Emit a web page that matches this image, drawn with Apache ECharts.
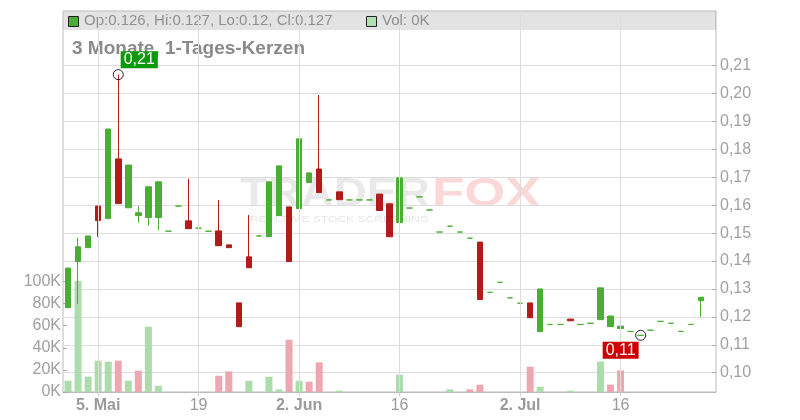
<!DOCTYPE html>
<html><head><meta charset="utf-8">
<script src="https://cdn.jsdelivr.net/npm/echarts@6/dist/echarts.min.js"></script>
<style>html,body{margin:0;padding:0;background:#fff}#c{width:800px;height:420px}</style>
</head><body><div id="c"></div>
<script>
// ---- data ----
const dates = ['2025-04-30','2025-05-01','2025-05-02','2025-05-05','2025-05-06','2025-05-07','2025-05-08','2025-05-09',
'2025-05-12','2025-05-13','2025-05-14','2025-05-15','2025-05-16','2025-05-19','2025-05-20','2025-05-21','2025-05-22','2025-05-23',
'2025-05-26','2025-05-27','2025-05-28','2025-05-29','2025-05-30','2025-06-02','2025-06-03','2025-06-04','2025-06-05','2025-06-06',
'2025-06-09','2025-06-10','2025-06-11','2025-06-12','2025-06-13','2025-06-16','2025-06-17','2025-06-18','2025-06-19','2025-06-20',
'2025-06-23','2025-06-24','2025-06-25','2025-06-26','2025-06-27','2025-06-30','2025-07-01','2025-07-02','2025-07-03','2025-07-04',
'2025-07-07','2025-07-08','2025-07-09','2025-07-10','2025-07-11','2025-07-14','2025-07-15','2025-07-16','2025-07-17','2025-07-18',
'2025-07-21','2025-07-22','2025-07-23','2025-07-24','2025-07-25','2025-07-28','2025-07-29'];

const open  = [0.1233,0.1398,0.1448,0.1597,0.1552,0.1766,0.1591,0.1563,0.1556,0.1556,
0.1507,0.1597,0.1544,0.1518,0.1507,0.1508,0.1458,0.1250,0.1415,0.1490,
0.1487,0.1563,0.1594,0.1588,0.1681,0.1730,0.1619,0.1648,0.1619,0.1619,
0.1619,0.1640,0.1605,0.1538,0.1590,0.1630,0.1583,0.1504,0.1525,0.1504,
0.1482,0.1468,0.1288,0.1324,0.1268,0.1249,0.1250,0.1147,0.1173,0.1173,
0.1192,0.1173,0.1177,0.1190,0.1165,0.1158,0.1148,0.1134,0.1152,0.1184,
0.1177,0.1148,0.1173,0.1258,null];
const high  = [0.1375,0.1483,0.1490,0.1597,0.1873,0.2068,0.1744,0.1597,0.1666,0.1684,
0.1507,0.1597,0.1695,0.1518,0.1507,0.1619,0.1458,0.1250,0.1565,0.1490,
0.1684,0.1741,0.1594,0.1838,0.1716,0.1995,0.1619,0.1648,0.1619,0.1619,
0.1619,0.1640,0.1605,0.1698,0.1590,0.1630,0.1583,0.1504,0.1525,0.1504,
0.1482,0.1468,0.1288,0.1324,0.1268,0.1249,0.1250,0.1300,0.1173,0.1173,
0.1192,0.1173,0.1177,0.1304,0.1203,0.1167,0.1148,0.1134,0.1152,0.1184,
0.1177,0.1148,0.1173,0.1270,null];
const low   = [0.1233,0.1247,0.1448,0.1487,0.1552,0.1606,0.1591,0.1538,0.1527,0.1511,
0.1507,0.1597,0.1516,0.1518,0.1507,0.1455,0.1448,0.1165,0.1376,0.1490,
0.1487,0.1563,0.1398,0.1588,0.1681,0.1645,0.1619,0.1620,0.1619,0.1619,
0.1619,0.1581,0.1487,0.1538,0.1590,0.1630,0.1583,0.1504,0.1525,0.1504,
0.1482,0.1262,0.1288,0.1324,0.1268,0.1249,0.1197,0.1147,0.1173,0.1173,
0.1186,0.1173,0.1177,0.1190,0.1165,0.1158,0.1148,0.1134,0.1152,0.1184,
0.1177,0.1148,0.1173,0.1200,null];
const close = [0.1375,0.1451,0.1490,0.1545,0.1873,0.1606,0.1744,0.1573,0.1666,0.1684,
0.1507,0.1597,0.1516,0.1518,0.1507,0.1455,0.1448,0.1165,0.1376,0.1490,
0.1684,0.1741,0.1398,0.1838,0.1716,0.1645,0.1619,0.1620,0.1619,0.1619,
0.1619,0.1581,0.1487,0.1698,0.1590,0.1630,0.1583,0.1504,0.1525,0.1504,
0.1482,0.1262,0.1288,0.1324,0.1268,0.1249,0.1197,0.1300,0.1173,0.1173,
0.1186,0.1173,0.1177,0.1304,0.1203,0.1167,0.1148,0.1134,0.1152,0.1184,
0.1177,0.1148,0.1173,0.1270,null];
const volume = [10200,100500,14000,28300,27400,28300,10200,19300,59000,5700,
0,0,0,0,0,14700,18600,0,10200,0,
13800,2400,47300,10200,9300,26800,0,1200,0,0,
0,0,0,15600,0,0,0,0,2400,0,
2400,6600,0,0,0,0,22900,4800,0,0,
1200,0,0,27500,6600,19500,0,0,0,0,
0,0,0,0,null];

const tickDates  = ['2025-05-05','2025-05-19','2025-06-02','2025-06-16','2025-07-02','2025-07-16'];
const tickLabels = ['5. Mai','19','2. Jun','16','2. Jul','16'];
const priceTicks = [0.10,0.11,0.12,0.13,0.14,0.15,0.16,0.17,0.18,0.19,0.20,0.21];
const volumeTicks = [0,20000,40000,60000,80000,100000];
const titleText = '3 Monate, 1-Tages-Kerzen';
const lastIdx = 63;
const hiIdx = 5, loIdx = 57;

// ---- styles ----
const GREEN = '#4aad34', RED = '#b31a1a';
const VGREEN = '#acdcac', VRED = '#eea7b0';
const FONT = '"Liberation Sans", Arial, sans-serif';
const fmt2 = v => v.toFixed(2).replace('.', ',');
const fmtQ = v => String(+v.toFixed(3));

const candleData = dates.map((d, i) => {
  if (open[i] == null) return '-';
  const item = { value: [open[i], close[i], low[i], high[i]] };
  if (open[i] === close[i]) item.itemStyle = { color: GREEN, color0: GREEN, borderColor: GREEN, borderColor0: GREEN };
  return item;
});
const volData = dates.map((d, i) => {
  if (volume[i] == null) return '-';
  const up = i === 0 || close[i] >= close[i - 1];
  return { value: volume[i], itemStyle: { color: up ? VGREEN : VRED } };
});
const isTick = v => tickDates.indexOf(v) >= 0;

const chart = echarts.init(document.getElementById('c'), null, { renderer: 'canvas' });
chart.setOption({
  animation: false,
  textStyle: { fontFamily: FONT },
  grid: { left: 63, right: 84, top: 11, bottom: 28, show: true, borderColor: '#bbb', borderWidth: 1, backgroundColor: 'transparent' },
  xAxis: {
    type: 'category', data: dates, boundaryGap: true,
    axisLine: { show: true, lineStyle: { color: '#bbb' } },
    axisTick: { show: true, alignWithLabel: true, length: 4, interval: (i, v) => isTick(v), lineStyle: { color: '#ccc' } },
    axisLabel: {
      interval: (i, v) => isTick(v), margin: 6, color: '#9a9a9a', fontSize: 16,
      formatter: v => { const k = tickDates.indexOf(v); if (k < 0) return ''; const t = tickLabels[k]; return /[A-Za-z]/.test(t) ? '{b|' + t + '}' : t; },
      rich: { b: { fontWeight: 'bold', fontSize: 16, color: '#9a9a9a' } }
    },
    splitLine: { show: false }
  },
  yAxis: [{
    type: 'value', position: 'right', min: 0.09308, max: 0.2296, scale: true,
    axisLine: { show: false },
    axisTick: { show: true, inside: true, length: 4, lineStyle: { color: '#aaa' }, customValues: priceTicks },
    axisLabel: { customValues: priceTicks, formatter: v => fmt2(v), color: '#a0a0a0', fontSize: 16, margin: 4 },
    splitLine: { show: true, lineStyle: { color: '#ddd', width: 1 } }
  }, {
    type: 'value', position: 'left', min: 0, max: 344500,
    axisLine: { show: false },
    axisTick: { show: true, inside: true, length: 4, lineStyle: { color: '#aaa' }, customValues: volumeTicks },
    axisLabel: { customValues: volumeTicks, formatter: v => (v / 1000) + 'K', color: '#a0a0a0', fontSize: 16, margin: 2 },
    splitLine: { show: false }
  }],
  graphic: [
    { type: 'rect', z: 1, silent: true, shape: { x: 63.5, y: 11.5, width: 652.5, height: 18.5 }, style: { fill: 'rgba(0,0,0,0.11)' } },
    { type: 'rect', z: 5, shape: { x: 68.5, y: 16.5, width: 10, height: 10 }, style: { fill: GREEN, stroke: '#222', lineWidth: 1 } },
    { type: 'text', z: 5, left: 84, top: 13, style: { text: 'Op:' + fmtQ(open[lastIdx]) + ', Hi:' + fmtQ(high[lastIdx]) + ', Lo:' + fmtQ(low[lastIdx]) + ', Cl:' + fmtQ(close[lastIdx]), fill: '#8f8f8f', font: '15px ' + FONT } },
    { type: 'rect', z: 5, shape: { x: 366.5, y: 16.5, width: 10, height: 10 }, style: { fill: '#b3e0b3', stroke: '#222', lineWidth: 1 } },
    { type: 'text', z: 5, left: 382, top: 13, style: { text: 'Vol: ' + Math.round(volume[lastIdx] / 1000) + 'K', fill: '#8f8f8f', font: '15px ' + FONT } },
    { type: 'text', z: 5, left: 72, top: 39, style: { text: titleText, fill: '#8a8a8a', font: 'bold 19px ' + FONT } },
    // watermark
    { type: 'text', z: 0, silent: true, x: 240, y: 175, scaleX: 1.14, style: { text: 'TRADER', fill: 'rgba(0,0,0,0.085)', font: 'bold 40px ' + FONT, textVerticalAlign: 'top' } },
    { type: 'text', z: 0, silent: true, x: 432, y: 175, scaleX: 1.32, style: { text: 'FOX', fill: 'rgba(235,60,60,0.2)', font: 'bold 40px ' + FONT, textVerticalAlign: 'top' } },
    { type: 'text', z: 0, silent: true, x: 250, y: 214, scaleX: 1.27, style: { text: 'REALTIME STOCK SCREENING', fill: 'rgba(0,0,0,0.11)', font: '9.5px ' + FONT, textVerticalAlign: 'top' } }
  ],
  series: [{
    type: 'line', data: [], z: 0, silent: true, xAxisIndex: 0, yAxisIndex: 0,
    markLine: { silent: true, symbol: ['none', 'none'], label: { show: false }, animation: false,
      lineStyle: { color: '#ddd', width: 1, type: 'solid' },
      data: tickDates.map(d => ({ xAxis: d })) }
  }, {
    type: 'bar', yAxisIndex: 1, data: volData, barWidth: 7, z: 1, silent: true
  }, {
    type: 'candlestick', yAxisIndex: 0, data: candleData, barWidth: 6, z: 3,
    itemStyle: { color: GREEN, color0: RED, borderColor: GREEN, borderColor0: RED, borderWidth: 1 },
    markPoint: {
      symbol: 'circle', symbolSize: 10, animation: false,
      itemStyle: { color: 'rgba(0,0,0,0)', borderColor: '#222', borderWidth: 1 },
      label: { show: true, position: 'inside', color: '#fff', fontSize: 16, padding: [1, 3, 0, 3], formatter: p => fmt2(p.value) },
      data: [
        { coord: [dates[hiIdx], high[hiIdx]], value: high[hiIdx], label: { offset: [21, -15], backgroundColor: '#0a990a' } },
        { coord: [dates[loIdx], low[loIdx]], value: low[loIdx], label: { offset: [-20, 15], backgroundColor: '#cc0000' } }
      ]
    }
  }]
});
</script>
</body></html>
